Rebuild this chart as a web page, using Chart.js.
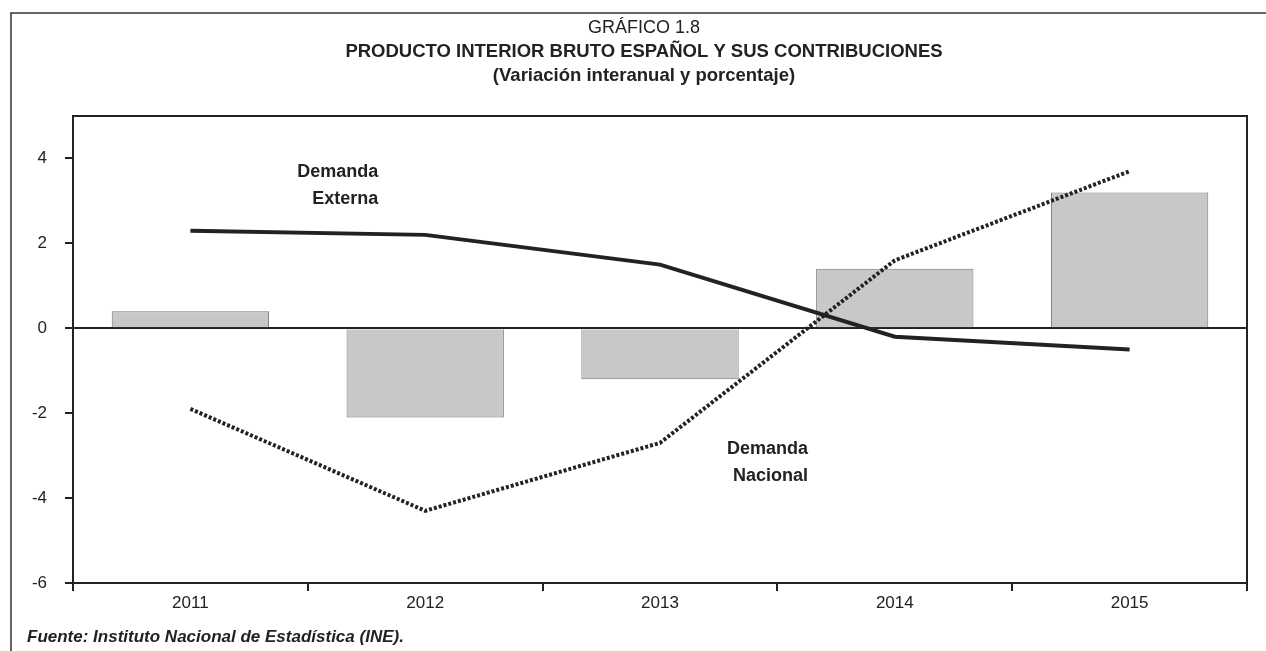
<!DOCTYPE html>
<html>
<head>
<meta charset="utf-8">
<script src="https://cdn.jsdelivr.net/npm/chart.js@4/dist/chart.umd.min.js"></script>
<style>
  html, body { margin: 0; padding: 0; background: #fff; }
  #wrap { width: 1266px; height: 651px; position: relative; }
</style>
</head>
<body>
<div id="wrap"><canvas id="ChartPib"></canvas></div>
<script>
// datos (variación interanual, %)
const years = ['2011', '2012', '2013', '2014', '2015'];
const pib = [0.4, -2.1, -1.2, 1.4, 3.2];
const demandaExterna = [2.3, 2.2, 1.5, -0.2, -0.5];
const demandaNacional = [-1.9, -4.3, -2.7, 1.6, 3.7];
const yTicks = [-6, -4, -2, 0, 2, 4];

const titleLines = ['GRÁFICO 1.8', 'PRODUCTO INTERIOR BRUTO ESPAÑOL Y SUS CONTRIBUCIONES', '(Variación interanual y porcentaje)'];
const fuente = 'Fuente: Instituto Nacional de Estadística (INE).';
// etiquetas dentro del gráfico: [texto, posición categoría, valor] (alineadas a la derecha)
const seriesLabels = [
    ['Demanda', 0.80, 3.69],
    ['Externa', 0.80, 3.04],
    ['Demanda', 2.63, -2.85],
    ['Nacional', 2.63, -3.48]
];

const FONT = '"Liberation Sans", Arial, sans-serif';
const INK = '#222';

// marco, títulos y textos
const decor = {
    id: 'decor',
    beforeDraw(chart) {
        const c = chart.ctx;
        c.save();
        c.strokeStyle = '#333';
        c.lineWidth = 1.5;
        c.beginPath();
        c.moveTo(11, 651);
        c.lineTo(11, 13);
        c.lineTo(1266, 13);
        c.stroke();

        c.fillStyle = INK;
        c.textAlign = 'center';
        c.textBaseline = 'middle';
        c.font = '18px ' + FONT;
        c.fillText(titleLines[0], 644, 28);
        c.font = 'bold 18.5px ' + FONT;
        c.fillText(titleLines[1], 644, 52);
        c.fillText(titleLines[2], 644, 76);

        c.textAlign = 'left';
        c.font = 'italic bold 17px ' + FONT;
        c.fillText(fuente, 27, 637);
        c.restore();
    },
    afterDatasetsDraw(chart) {
        const c = chart.ctx;
        const x = chart.scales.x, y = chart.scales.y;
        const a = chart.chartArea;
        c.save();
        c.strokeStyle = INK;
        c.lineWidth = 2;
        c.strokeRect(a.left, a.top, a.right - a.left, a.bottom - a.top);

        c.fillStyle = INK;
        c.font = 'bold 18px ' + FONT;
        c.textAlign = 'right';
        c.textBaseline = 'middle';
        seriesLabels.forEach(function(l) {
            c.fillText(l[0], x.getPixelForValue(l[1]), y.getPixelForValue(l[2]));
        });
        c.restore();
    }
};

const ctx = document.getElementById('ChartPib').getContext('2d');
const myChart = new Chart(ctx, {
    data: {
        labels: years,
        datasets: [{
            type: 'line',
            label: 'Demanda Externa',
            data: demandaExterna,
            borderColor: INK,
            borderWidth: 4,
            pointRadius: 0,
            tension: 0,
            order: 0
        }, {
            type: 'line',
            label: 'Demanda Nacional',
            data: demandaNacional,
            borderColor: INK,
            borderWidth: 4,
            borderDash: [3, 2],
            borderCapStyle: 'butt',
            pointRadius: 0,
            tension: 0,
            order: 1
        }, {
            type: 'bar',
            label: 'PIB',
            data: pib,
            backgroundColor: '#c8c8ca',
            borderColor: '#777',
            borderWidth: 1,
            categoryPercentage: 1,
            barPercentage: 0.67,
            order: 2
        }]
    },
    options: {
        responsive: true,
        maintainAspectRatio: false,
        animation: false,
        layout: { padding: { left: 11, right: 19, top: 116, bottom: 0 } },
        plugins: {
            legend: { display: false },
            tooltip: { enabled: false }
        },
        scales: {
            x: {
                grid: {
                    offset: true,
                    drawOnChartArea: false,
                    tickLength: 8,
                    tickColor: INK,
                    lineWidth: 2
                },
                border: { display: false },
                ticks: { color: INK, font: { family: FONT, size: 17 }, padding: 2 },
                afterFit: function(scale) { scale.height = 68; }
            },
            y: {
                min: -6,
                max: 5,
                afterBuildTicks: function(scale) {
                    scale.ticks = yTicks.map(function(v) { return { value: v }; });
                },
                grid: {
                    color: function(c) { return c.tick && c.tick.value === 0 ? INK : 'rgba(0,0,0,0)'; },
                    tickColor: INK,
                    tickLength: 8,
                    lineWidth: 2
                },
                border: { display: false },
                ticks: { color: INK, font: { family: FONT, size: 17 }, padding: 18 },
                afterFit: function(scale) { scale.width = 62; }
            }
        }
    },
    plugins: [decor]
});
</script>
</body>
</html>
